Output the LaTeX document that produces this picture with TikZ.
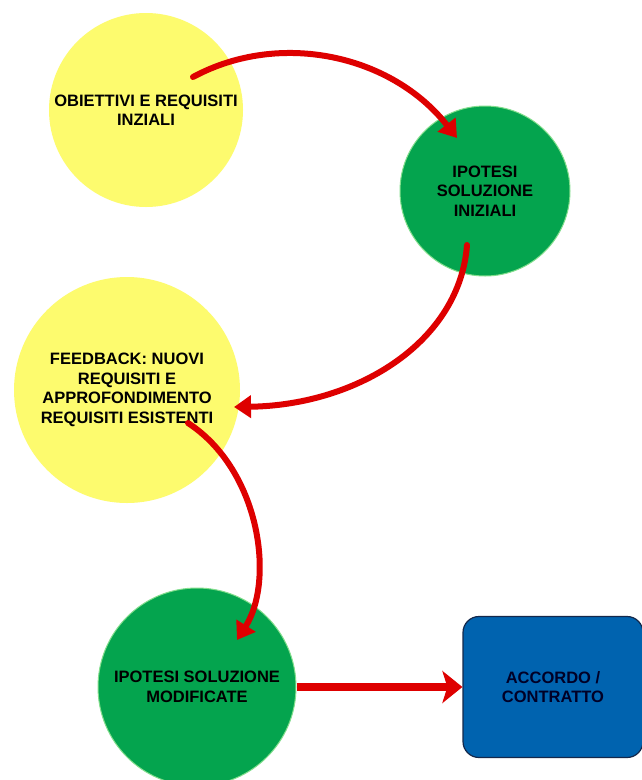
\documentclass[tikz,border=0pt]{standalone}
\usepackage{fontspec}
\setmainfont{Liberation Sans}
\usetikzlibrary{arrows.meta,calc}

\definecolor{bubbleyellow}{RGB}{253,251,110}
\definecolor{bubblegreen}{RGB}{4,164,78}
\definecolor{greenrim}{RGB}{130,222,140}
\definecolor{boxblue}{RGB}{0,99,175}
\definecolor{boxrim}{RGB}{20,40,75}
\definecolor{flowred}{RGB}{222,0,0}

\tikzset{
  bubble/.style={circle, inner sep=0pt, align=center,
    font=\bfseries\fontsize{16.5}{19.5}\selectfont},
  yellowbubble/.style={bubble, fill=bubbleyellow},
  greenbubble/.style={bubble, fill=bubblegreen, draw=greenrim, line width=1pt},
  endbox/.style={rectangle, rounded corners=16pt, fill=boxblue, draw=boxrim,
    line width=1.2pt, align=center, minimum width=180pt, minimum height=141pt,
    font=\bfseries\fontsize{16.5}{19.5}\selectfont, text=black!85!blue},
  flow/.style={draw=flowred, line width=6pt, line cap=round,
    -{Triangle[length=17pt,width=22pt,fill=flowred]}},
  bigflow/.style={draw=flowred, line width=8pt,
    -{Stealth[length=20pt,width=32pt,inset=5pt,fill=flowred]}}
}

\begin{document}
\begin{tikzpicture}[x=1pt,y=-1pt]
  \useasboundingbox (0,0) rectangle (641,780);
  \fill[white] (0,0) rectangle (641,780);

  % stages of the process
  \node[yellowbubble, minimum size=194pt] (obj) at (146,110)
    {OBIETTIVI E REQUISITI\\INZIALI};
  \node[greenbubble, minimum size=170pt] (ipi) at (485,191)
    {IPOTESI\\SOLUZIONE\\INIZIALI};
  \node[yellowbubble, minimum size=226pt] (fb) at (127,390)
    {FEEDBACK: NUOVI\\REQUISITI E\\APPROFONDIMENTO\\REQUISITI ESISTENTI};
  \node[greenbubble, minimum size=198pt] (ipm) at (197,687)
    {IPOTESI SOLUZIONE\\MODIFICATE};
  \node[endbox] (acc) at (553,687) {ACCORDO /\\CONTRATTO};

  % arrow ends inside the bubbles
  \coordinate (s1) at ($(obj)+(47,-33)$);
  \coordinate (e1) at ($(ipi)+(-28,-53)$);
  \coordinate (s2) at ($(ipi)+(-18,54)$);
  \coordinate (e2) at ($(fb)+(107,17)$);
  \coordinate (s3) at ($(fb)+(61,33)$);
  \coordinate (e3) at ($(ipm)+(40,-47)$);

  % flow between stages
  \draw[flow] (s1) .. controls (280,30) and (392,55) .. (e1);
  \draw[flow] (s2) .. controls (460,340) and (360,405) .. (e2);
  \draw[flow] (s3) .. controls (260,470) and (275,580) .. (e3);
  \draw[bigflow] (ipm.east) -- (acc.west);
\end{tikzpicture}
\end{document}
